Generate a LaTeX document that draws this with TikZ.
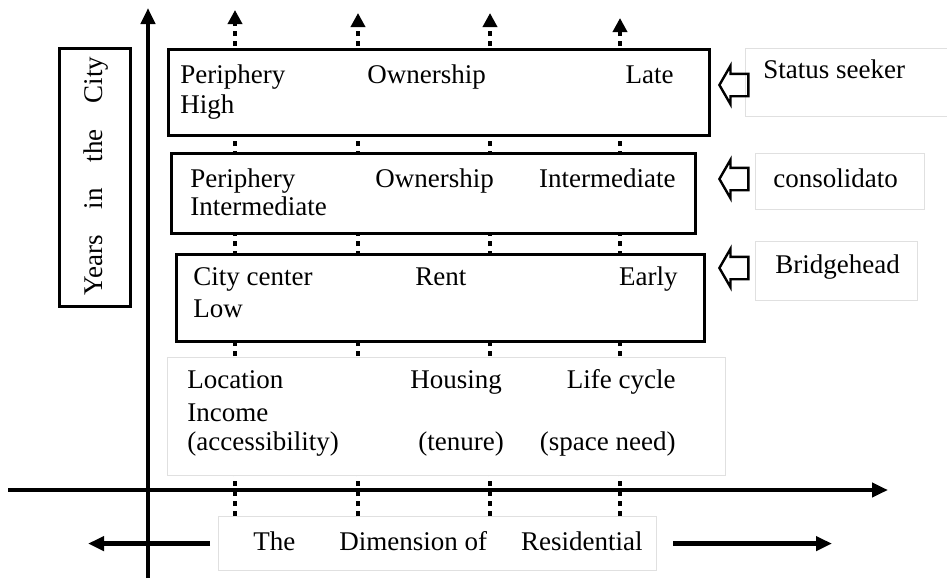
\documentclass[tikz,border=0pt]{standalone}
\usepackage{fontspec}
\setmainfont{Liberation Serif}
\usetikzlibrary{arrows.meta,shapes.arrows}

\tikzset{
  axis/.style={line width=2pt,-{Triangle[width=7pt,length=8pt]}},
  guide/.style={line width=2pt,dash pattern=on 2.5pt off 2.5pt,-{Triangle[width=7pt,length=7pt]}},
  stage/.style={draw,line width=1.3pt,fill=white,anchor=north west,inner sep=0pt},
  soft/.style={draw=black!12,line width=0.6pt,fill=white,anchor=north west,inner sep=0pt},
  txt/.style={inner sep=0pt,anchor=base west,font=\fontsize{13.5}{15}\selectfont},
  pointer/.style={single arrow,draw,line width=1.2pt,shape border rotate=180,
    anchor=tip,minimum height=14.5pt,inner xsep=0pt,inner ysep=5pt,
    single arrow head extend=4pt,single arrow tip angle=120}
}

\begin{document}
\begin{tikzpicture}[x=0.5pt,y=-0.5pt]
  \useasboundingbox (0,0) rectangle (947,578);

  % bottom label box
  \node[soft,minimum width=219pt,minimum height=27pt] (dim) at (218,516) {};

  % dotted guides up through the stages
  \coordinate (t1) at (235,10);
  \coordinate (t2) at (358,13);
  \coordinate (t3) at (490,13);
  \coordinate (t4) at (620,18);
  \foreach \i in {1,...,4}
    \draw[guide] (dim.north -| t\i) -- (t\i);

  % axes
  \coordinate (o1) at (148,578);
  \coordinate (o2) at (148,8);
  \coordinate (h1) at (8,490);
  \coordinate (h2) at (888,490);
  \draw[axis] (o1) -- (o2);
  \draw[axis] (h1) -- (h2);

  % stages
  \node[stage,minimum width=270.5pt,minimum height=43pt] (late) at (167,48) {};
  \node[stage,minimum width=262pt,minimum height=40pt] (mid) at (170,152) {};
  \node[stage,minimum width=264pt,minimum height=43.5pt] (early) at (175,253) {};
  \node[soft,minimum width=279pt,minimum height=59pt] (dims) at (167,357) {};

  \node[txt] (late-a) at (180,83) {Periphery};
  \node[txt] (late-b) at (367,83) {Ownership};
  \node[txt,anchor=base east] (late-c) at (674,83) {Late};
  \node[txt] (late-d) at (180,113) {High};

  \node[txt] (mid-a) at (190,187) {Periphery};
  \node[txt] (mid-b) at (375,187) {Ownership};
  \node[txt,anchor=base east] (mid-c) at (676,187) {Intermediate};
  \node[txt] (mid-d) at (190,215) {Intermediate};

  \node[txt] (early-a) at (193,285) {City center};
  \node[txt] (early-b) at (415,285) {Rent};
  \node[txt,anchor=base east] (early-c) at (678,285) {Early};
  \node[txt] (early-d) at (193,317) {Low};

  \node[txt] (dims-a) at (187,388) {Location};
  \node[txt] (dims-b) at (410,388) {Housing};
  \node[txt,anchor=base east] (dims-c) at (676,388) {Life cycle};
  \node[txt] (dims-d) at (187,421) {Income};
  \node[txt] (dims-e) at (187,450) {(accessibility)};
  \node[txt] (dims-f) at (418,450) {(tenure)};
  \node[txt,anchor=base east] (dims-g) at (676,450) {(space need)};

  % vertical axis label
  \node[stage,minimum width=35.5pt,minimum height=129pt] (years) at (58,47) {};
  \node[txt,anchor=base,rotate=90] (years-t) at (102,176)
    {\spaceskip=13pt Years in the City};

  % group labels and pointers
  \node[soft,minimum width=101pt,minimum height=34pt] (seeker) at (745,48) {};
  \node[soft,minimum width=84.5pt,minimum height=28pt] (consol) at (755,153) {};
  \node[soft,minimum width=81pt,minimum height=29.5pt] (bridge) at (755,241) {};
  \node[txt] (seeker-t) at (763,78) {Status seeker};
  \node[txt] (consol-t) at (773,187) {consolidato};
  \node[txt] (bridge-t) at (775,273) {Bridgehead};

  \node[pointer] (p1) at (718,85) {};
  \node[pointer] (p2) at (718,179) {};
  \node[pointer] (p3) at (718,268) {};

  % horizontal axis label
  \node[txt] (dim-t) at (253,550)
    {The\hspace{22pt}Dimension of\hspace{17pt}Residential};
  \coordinate (farL) at (88,541);
  \coordinate (farR) at (832,541);
  \draw[axis,line width=2.3pt] ([xshift=-4pt]dim.west) -- (dim.west -| farL);
  \draw[axis,line width=2.3pt] ([xshift=8pt]dim.east) -- (dim.east -| farR);
\end{tikzpicture}
\end{document}
